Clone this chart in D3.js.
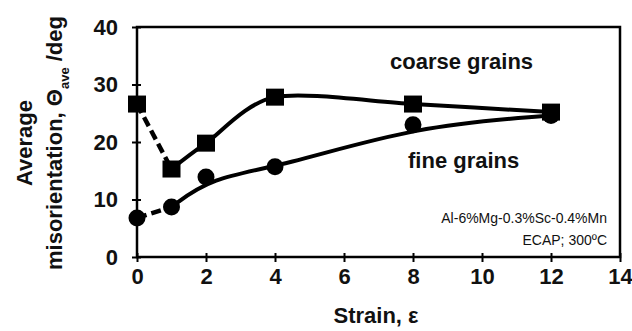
<!DOCTYPE html>
<html>
<head>
<meta charset="utf-8">
<script src="https://cdn.jsdelivr.net/npm/d3@7"></script>
<style>
  body { margin: 0; background: #fff; }
  text { font-family: "Liberation Sans", Arial, sans-serif; }
</style>
</head>
<body>
<script>
// strain values and average misorientation (deg)
const strain = [0, 1, 2, 4, 8, 12];
const coarse = [26.6, 15.3, 19.8, 27.8, 26.6, 25.2];
const fine = [6.8, 8.7, 13.9, 15.7, 23.0, 24.6];
const xTicks = [0, 2, 4, 6, 8, 10, 12, 14];
const yTicks = [0, 10, 20, 30, 40];

const W = 632, H = 331;
const m = { left: 137, right: 12, top: 27, bottom: 74 };
const ink = '#111';

const svg = d3.select('body').append('svg')
    .attr('width', W)
    .attr('height', H);

const x = d3.scaleLinear().domain([0, 14]).range([m.left, W - m.right]);
const y = d3.scaleLinear().domain([0, 40]).range([H - m.bottom, m.top]);

// frame
svg.append('rect')
    .attr('x', x(0)).attr('y', y(40))
    .attr('width', x(14) - x(0)).attr('height', y(0) - y(40))
    .attr('fill', 'none').attr('stroke', '#000').attr('stroke-width', 2.5);

const xAxis = svg.append('g')
    .attr('transform', `translate(0,${y(0)})`)
    .call(d3.axisBottom(x).tickValues(xTicks).tickSize(5).tickPadding(6));
const yAxis = svg.append('g')
    .attr('transform', `translate(${x(0)},0)`)
    .call(d3.axisLeft(y).tickValues(yTicks).tickSize(5).tickPadding(14));

[xAxis, yAxis].forEach(g => {
    g.select('.domain').remove();
    g.selectAll('line').attr('stroke-width', 2);
    g.selectAll('text')
        .attr('font-size', 22).attr('font-weight', 'bold').attr('fill', ink)
        .style('font-family', '"Liberation Sans", Arial, sans-serif');
});
// ticks cross the axis a little
xAxis.selectAll('line').attr('y1', -4);
yAxis.selectAll('line').attr('x1', 4);

const pts = (ys) => strain.map((s, i) => [s, ys[i]]);
const lineCoarse = d3.line().x(d => x(d[0])).y(d => y(d[1])).curve(d3.curveCardinal.tension(0.15));
const lineFine = d3.line().x(d => x(d[0])).y(d => y(d[1])).curve(d3.curveBundle.beta(0.92));
const straight = d3.line().x(d => x(d[0])).y(d => y(d[1]));

const cp = pts(coarse), fp = pts(fine);

// dashed first segments
[cp, fp].forEach(p => {
    svg.append('path')
        .attr('d', straight(p.slice(0, 2)))
        .attr('fill', 'none').attr('stroke', '#000')
        .attr('stroke-width', 4.5).attr('stroke-dasharray', '10,5');
});
svg.append('path')
    .attr('d', lineCoarse(cp.slice(1)))
    .attr('fill', 'none').attr('stroke', '#000').attr('stroke-width', 4);
svg.append('path')
    .attr('d', lineFine(fp.slice(1)))
    .attr('fill', 'none').attr('stroke', '#000').attr('stroke-width', 4);

// markers
svg.selectAll('rect.sq').data(cp).enter().append('rect')
    .attr('class', 'sq')
    .attr('x', d => x(d[0]) - 9).attr('y', d => y(d[1]) - 8.5)
    .attr('width', 18).attr('height', 17)
    .attr('fill', '#000');
svg.selectAll('circle.ci').data(fp).enter().append('circle')
    .attr('class', 'ci')
    .attr('cx', d => x(d[0])).attr('cy', d => y(d[1]))
    .attr('r', 8.5).attr('fill', '#000');

// labels
svg.append('text').attr('x', 390).attr('y', 69)
    .attr('font-size', 22).attr('font-weight', 'bold').attr('fill', ink)
    .text('coarse grains');
svg.append('text').attr('x', 408).attr('y', 168)
    .attr('font-size', 22).attr('font-weight', 'bold').attr('fill', ink)
    .text('fine grains');
svg.append('text').attr('x', 607).attr('y', 223).attr('text-anchor', 'end')
    .attr('font-size', 14).attr('fill', ink)
    .text('Al-6%Mg-0.3%Sc-0.4%Mn');
svg.append('text').attr('x', 607).attr('y', 245).attr('text-anchor', 'end')
    .attr('font-size', 14).attr('fill', ink)
    .text('ECAP; 300ºC');

// axis titles
svg.append('text').attr('x', 376).attr('y', 323)
    .attr('text-anchor', 'middle')
    .attr('font-size', 22).attr('font-weight', 'bold').attr('fill', ink)
    .text('Strain, ε');

const yt = svg.append('g').attr('transform', 'translate(0,143) rotate(-90)');
yt.append('text').attr('x', 0).attr('y', 32).attr('text-anchor', 'middle')
    .attr('font-size', 22).attr('font-weight', 'bold').attr('fill', ink)
    .text('Average');
const t2 = yt.append('text').attr('x', 0).attr('y', 62).attr('text-anchor', 'middle')
    .attr('font-size', 22).attr('font-weight', 'bold').attr('fill', ink);
t2.append('tspan').text('misorientation, Θ');
t2.append('tspan').attr('dy', 7).attr('font-size', 13).text('ave');
t2.append('tspan').attr('dy', -7).text(' /deg');
</script>
</body>
</html>
